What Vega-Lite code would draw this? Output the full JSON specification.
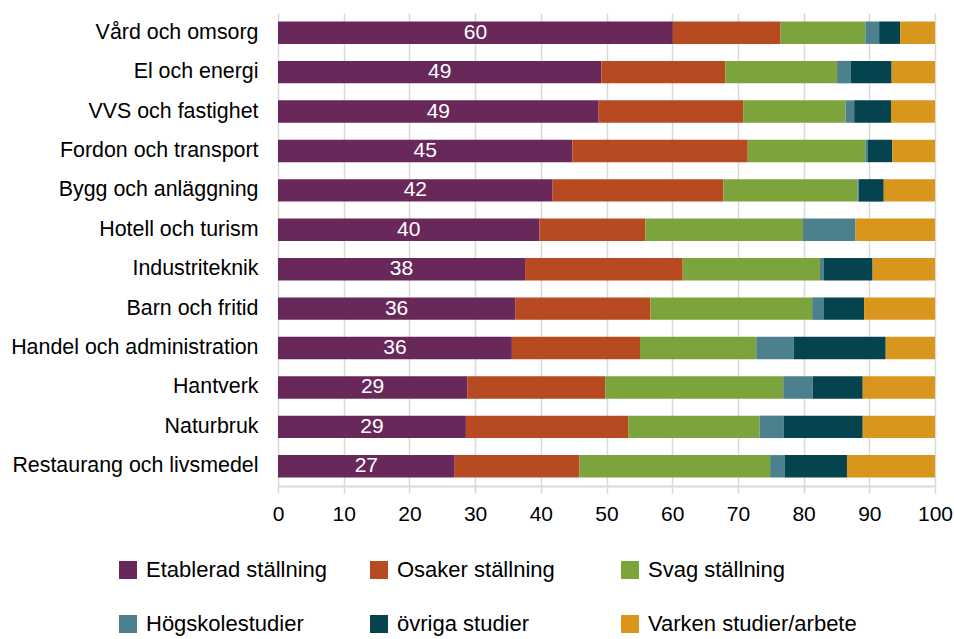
{
  "$schema": "https://vega.github.io/schema/vega-lite/v6.json",
  "autosize": "none",
  "width": 657,
  "height": 473,
  "padding": {"left": 278, "top": 13, "right": 19, "bottom": 153},
  "background": "white",
  "config": {
    "font": "Liberation Sans",
    "view": {"stroke": null},
    "axis": {"labelFont": "Liberation Sans", "labelColor": "#000", "labelFontSize": 21}
  },
  "data": {
    "values": [
      {"program": "Vård och omsorg", "Etablerad ställning": 60.1, "Osaker ställning": 16.4, "Svag ställning": 12.9, "Högskolestudier": 2.1, "övriga studier": 3.2, "Varken studier/arbete": 5.3},
      {"program": "El och energi", "Etablerad ställning": 49.2, "Osaker ställning": 18.9, "Svag ställning": 17.0, "Högskolestudier": 2.1, "övriga studier": 6.2, "Varken studier/arbete": 6.6},
      {"program": "VVS och fastighet", "Etablerad ställning": 48.8, "Osaker ställning": 22.0, "Svag ställning": 15.6, "Högskolestudier": 1.3, "övriga studier": 5.6, "Varken studier/arbete": 6.7},
      {"program": "Fordon och transport", "Etablerad ställning": 44.8, "Osaker ställning": 26.7, "Svag ställning": 17.9, "Högskolestudier": 0.4, "övriga studier": 3.7, "Varken studier/arbete": 6.5},
      {"program": "Bygg och anläggning", "Etablerad ställning": 41.8, "Osaker ställning": 26.0, "Svag ställning": 20.4, "Högskolestudier": 0.2, "övriga studier": 3.8, "Varken studier/arbete": 7.8},
      {"program": "Hotell och turism", "Etablerad ställning": 39.8, "Osaker ställning": 16.1, "Svag ställning": 24.0, "Högskolestudier": 8.0, "övriga studier": 0.0, "Varken studier/arbete": 12.1},
      {"program": "Industriteknik", "Etablerad ställning": 37.6, "Osaker ställning": 24.0, "Svag ställning": 20.9, "Högskolestudier": 0.6, "övriga studier": 7.4, "Varken studier/arbete": 9.5},
      {"program": "Barn och fritid", "Etablerad ställning": 36.1, "Osaker ställning": 20.6, "Svag ställning": 24.6, "Högskolestudier": 1.8, "övriga studier": 6.1, "Varken studier/arbete": 10.8},
      {"program": "Handel och administration", "Etablerad ställning": 35.6, "Osaker ställning": 19.5, "Svag ställning": 17.7, "Högskolestudier": 5.7, "övriga studier": 14.0, "Varken studier/arbete": 7.5},
      {"program": "Hantverk", "Etablerad ställning": 28.8, "Osaker ställning": 21.0, "Svag ställning": 27.1, "Högskolestudier": 4.5, "övriga studier": 7.6, "Varken studier/arbete": 11.0},
      {"program": "Naturbruk", "Etablerad ställning": 28.6, "Osaker ställning": 24.7, "Svag ställning": 20.0, "Högskolestudier": 3.7, "övriga studier": 12.0, "Varken studier/arbete": 11.0},
      {"program": "Restaurang och livsmedel", "Etablerad ställning": 26.9, "Osaker ställning": 19.0, "Svag ställning": 29.0, "Högskolestudier": 2.2, "övriga studier": 9.5, "Varken studier/arbete": 13.4}
    ]
  },
  "transform": [
    {"fold": ["Etablerad ställning", "Osaker ställning", "Svag ställning", "Högskolestudier", "övriga studier", "Varken studier/arbete"], "as": ["kategori", "andel"]},
    {"window": [{"op": "row_number", "as": "ordning"}], "groupby": ["program"]}
  ],
  "encoding": {
    "y": {
      "field": "program", "type": "nominal", "sort": null, "title": null,
      "scale": {"paddingInner": 0.43},
      "axis": {"domain": false, "ticks": false, "labelPadding": 20, "grid": false, "labelLimit": 400, "labelFontSize": 21.4}
    }
  },
  "layer": [
    {
      "mark": {"type": "bar"},
      "encoding": {
        "x": {
          "field": "andel", "type": "quantitative", "stack": "zero", "title": null,
          "scale": {"domain": [0, 100], "nice": false},
          "axis": {"values": [0,10,20,30,40,50,60,70,80,90,100], "grid": true, "gridColor": "#d9d9d9", "gridWidth": 1.5, "domainColor": "#d9d9d9", "domainWidth": 2, "tickColor": "#d9d9d9", "tickWidth": 1.5, "tickSize": 7, "labelPadding": 10, "labelFlush": false}
        },
        "order": {"field": "ordning", "type": "quantitative", "sort": "ascending"},
        "color": {
          "field": "kategori", "type": "nominal",
          "sort": ["Etablerad ställning", "Osaker ställning", "Svag ställning", "Högskolestudier", "övriga studier", "Varken studier/arbete"],
          "scale": {
            "domain": ["Etablerad ställning", "Osaker ställning", "Svag ställning", "Högskolestudier", "övriga studier", "Varken studier/arbete"],
            "range": ["#68285a", "#b84a22", "#7ca33c", "#4c808c", "#05434f", "#d9961c"]
          },
          "legend": {
            "title": null, "orient": "none", "legendX": -161, "legendY": 546,
            "direction": "horizontal", "columns": 3, "gridAlign": "all", "columnPadding": 13, "rowPadding": 32,
            "symbolType": "square", "symbolSize": 324, "symbolStrokeWidth": 0, "symbolOpacity": 1,
            "labelFontSize": 22, "labelFont": "Liberation Sans", "labelColor": "#000", "labelOffset": 7, "labelLimit": 400
          }
        }
      }
    },
    {
      "transform": [{"filter": "datum.kategori === 'Etablerad ställning'"}],
      "mark": {"type": "text", "color": "white", "fontSize": 21, "font": "Liberation Sans", "baseline": "middle", "align": "center"},
      "encoding": {
        "x": {"field": "andel", "type": "quantitative", "stack": "zero", "bandPosition": 0.5},
        "text": {"field": "andel", "type": "quantitative", "format": ".0f"}
      }
    }
  ]
}
